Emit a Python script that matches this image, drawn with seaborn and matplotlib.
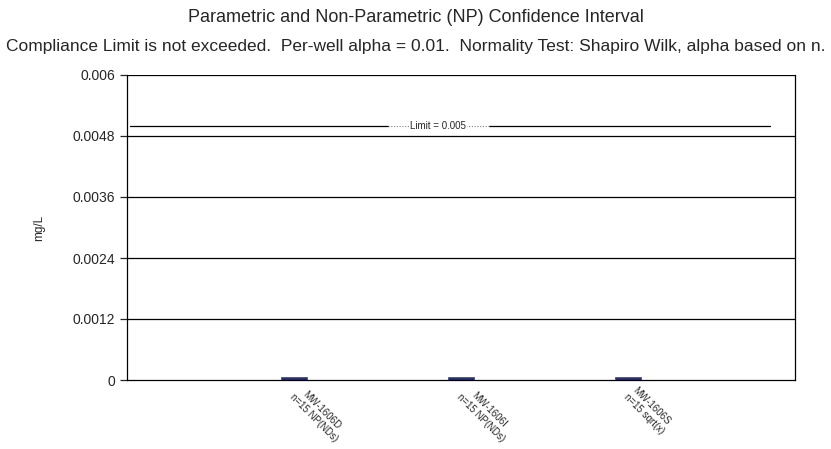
import matplotlib
matplotlib.use("Agg")
import matplotlib.pyplot as plt
import matplotlib.transforms as mtransforms
import seaborn as sns
import pandas as pd

# data
wells = ["MW-1606D\nn=15 NP(NDs)", "MW-1606I\nn=15 NP(NDs)", "MW-1606S\nn=15 sqrt(x)"]
upper = [0.00006, 0.00006, 0.00005]
limit = 0.005
yticks = [0, 0.0012, 0.0024, 0.0036, 0.0048, 0.006]
ytick_labels = ["0", "0.0012", "0.0024", "0.0036", "0.0048", "0.006"]

df = pd.DataFrame({"well": wells, "value": upper})

sns.set_style("white")
plt.rcParams["font.family"] = ["Liberation Sans", "DejaVu Sans"]

fig = plt.figure(figsize=(8.31, 4.49), dpi=100)
ax = fig.add_axes([127 / 831, 1 - 380 / 449, 668 / 831, 305 / 449])

sns.barplot(data=df, x="well", y="value", color="#14208f", width=0.16,
            edgecolor="#3a4fc0", linewidth=0.6, ax=ax)

ax.set_xlim(-1, 3)
ax.set_ylim(0, 0.006)
ax.set_yticks(yticks)
ax.set_yticklabels(ytick_labels, fontsize=10)
for y in yticks[1:]:
    ax.axhline(y, color="black", lw=0.9, zorder=0)

# limit line with label
ax.plot([-0.98, 0.56], [limit, limit], color="black", lw=0.9)
ax.plot([1.17, 2.85], [limit, limit], color="black", lw=0.9)
ax.plot([0.56, 1.17], [limit, limit], color="gray", lw=0.8, ls=(0, (1, 1.5)))
ax.text(0.862, limit, "Limit = 0.005", fontsize=7, ha="center", va="center",
        bbox=dict(facecolor="white", edgecolor="none", pad=0.5))

ax.set_xticks(range(len(wells)))
ax.set_xticklabels(wells, rotation=-45, rotation_mode="anchor", ha="left",
                   va="top", fontsize=7, multialignment="center")
ax.tick_params(axis="x", length=0, pad=3)
shift = mtransforms.ScaledTranslation(9 / 100, 0, fig.dpi_scale_trans)
for lab in ax.get_xticklabels():
    lab.set_transform(lab.get_transform() + shift)
ax.tick_params(axis="y", direction="out", length=5, width=0.9, left=True)

for s in ax.spines.values():
    s.set_color("black")
    s.set_linewidth(0.9)
ax.spines["top"].set_visible(False)

ax.set_xlabel("")
ax.set_ylabel("mg/L", fontsize=8.5, labelpad=20)

fig.text(0.5, 1 - 17 / 449, "Parametric and Non-Parametric (NP) Confidence Interval",
         ha="center", va="center", fontsize=13)
fig.text(0.5, 1 - 46 / 449,
         "Compliance Limit is not exceeded.  Per-well alpha = 0.01.  Normality Test: Shapiro Wilk, alpha based on n.",
         ha="center", va="center", fontsize=12.5)

fig.savefig("out.png", dpi=100)
